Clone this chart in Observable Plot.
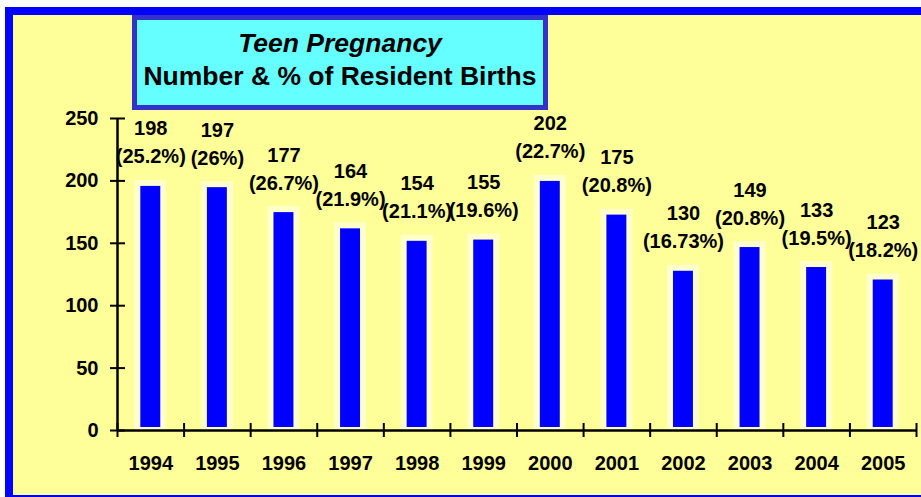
<!DOCTYPE html>
<html>
<head>
<meta charset="utf-8">
<script src="https://cdn.jsdelivr.net/npm/d3@7"></script>
<script src="https://cdn.jsdelivr.net/npm/@observablehq/plot@0.6"></script>
<style>
  html, body { margin: 0; padding: 0; width: 921px; height: 497px; overflow: hidden; background: #fff; }
  #frame { position: absolute; left: 5px; top: 7px; width: 1000px; height: 480px; border: 8px solid #0000FF; background: #FFFF99; }
  #title { position: absolute; left: 132px; top: 15px; width: 416px; height: 95px; box-sizing: border-box;
           border: 5px solid #3333CC; background: #66FFFF; text-align: center;
           font-family: Arial, "Liberation Sans", sans-serif; font-weight: bold; font-size: 26.5px; color: #000; z-index: 2; }
  #title .l1 { font-style: italic; position: absolute; left: 0; right: 0; top: 8px; }
  #title .l2 { position: absolute; left: 0; right: 0; top: 41px; }
  #chart { position: absolute; left: 0; top: 0; z-index: 1; }
</style>
</head>
<body>
<div id="frame"></div>
<div id="chart"></div>
<div id="title"><div class="l1">Teen Pregnancy</div><div class="l2">Number &amp; % of Resident Births</div></div>
<script>
const years = ["1994","1995","1996","1997","1998","1999","2000","2001","2002","2003","2004","2005"];
const counts = [198, 197, 177, 164, 154, 155, 202, 175, 130, 149, 133, 123];
const pcts = ["25.2%","26%","26.7%","21.9%","21.1%","19.6%","22.7%","20.8%","16.73%","20.8%","19.5%","18.2%"];
const yTicks = [0, 50, 100, 150, 200, 250];

const data = years.map((year, i) => ({i, year, count: counts[i], pct: pcts[i]}));
const half = 0.1875; // half bar width as a fraction of a category step
const font = 'Arial, "Liberation Sans", sans-serif';

const chart = Plot.plot({
  width: 921,
  height: 497,
  marginLeft: 117,
  marginRight: 5,
  marginTop: 118,
  marginBottom: 67,
  style: {background: "transparent", fontFamily: font, fontSize: "20px", fontWeight: "bold", color: "#000", overflow: "visible"},
  x: {domain: [0, years.length], axis: null},
  y: {domain: [0, 250], axis: null},
  marks: [
    // pale halo behind bars
    Plot.rectY(data, {x1: d => d.i + 0.5 - half, x2: d => d.i + 0.5 + half, y1: 0, y2: "count",
      fill: "#FFFFCC", insetLeft: -3.5, insetRight: -3.5, insetTop: -3}),
    // blue bars
    Plot.rectY(data, {x1: d => d.i + 0.5 - half, x2: d => d.i + 0.5 + half, y1: 0, y2: "count",
      fill: "#0000FF", insetLeft: 2.5, insetRight: 2.5, insetTop: 3, insetBottom: 3}),
    // axis lines
    Plot.ruleX([0], {y1: 0, y2: 250, stroke: "#000", strokeWidth: 2.5}),
    Plot.ruleY([0], {x1: 0, x2: years.length, stroke: "#000", strokeWidth: 2.5}),
    // y ticks crossing the axis
    Plot.ruleY(yTicks, {y: d => d, x1: 0, x2: 0, insetLeft: -7, insetRight: -8, stroke: "#000", strokeWidth: 2}),
    // x ticks at category boundaries crossing the axis
    Plot.ruleX(d3.range(years.length + 1), {x: d => d, y1: 0, y2: 0, insetTop: -7, insetBottom: -7, stroke: "#000", strokeWidth: 2}),
    // y tick labels
    Plot.text(yTicks, {x: 0, y: d => d, text: d => String(d), textAnchor: "end", dx: -19, fontSize: 20, fontWeight: "bold", fill: "#000"}),
    // x tick labels
    Plot.text(data, {x: d => d.i + 0.5, y: 0, text: "year", dy: 33, fontSize: 20, fontWeight: "bold", fill: "#000"}),
    // value labels
    Plot.text(data, {x: d => d.i + 0.5, y: "count", text: d => `${d.count}\n(${d.pct})`,
      lineAnchor: "bottom", lineHeight: 1.4, dy: -20, fontSize: 20, fontWeight: "bold", fill: "#000"})
  ]
});
document.getElementById("chart").appendChild(chart);
</script>
</body>
</html>
